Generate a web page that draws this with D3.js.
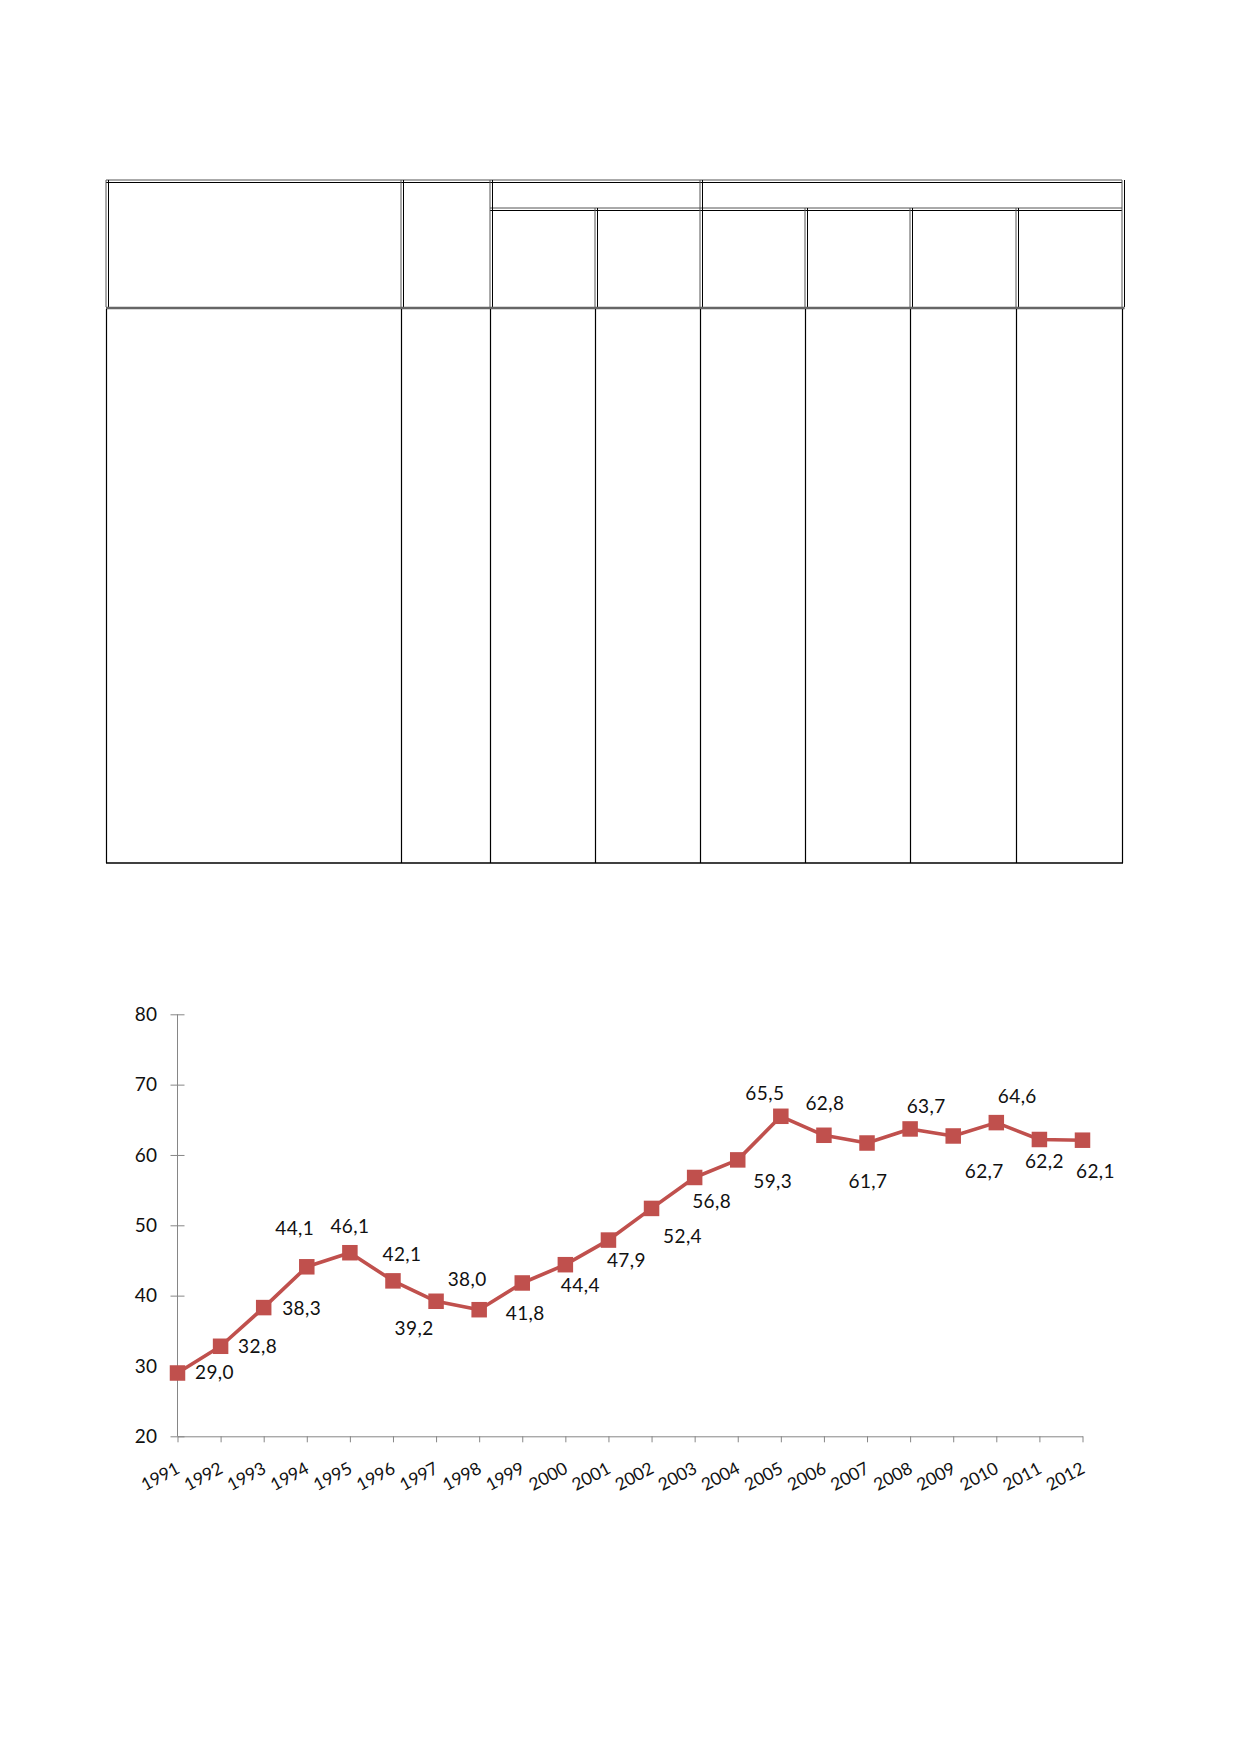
<!DOCTYPE html>
<html>
<head>
<meta charset="utf-8">
<script src="https://cdn.jsdelivr.net/npm/d3@7"></script>
<style>
    html, body { margin: 0; padding: 0; background: #fff; }
    svg { display: block; }
    text { font-family: Lato, "Open Sans", sans-serif; fill: #111; letter-spacing: 0.4px; }
    .x-axis text { letter-spacing: 0; }
</style>
</head>
<body>
<script>

// years on the category axis
let years = d3.range(1991, 2013).map(String);

// series values, one per year
let values = [29.0, 32.8, 38.3, 44.1, 46.1, 42.1, 39.2, 38.0, 41.8, 44.4, 47.9,
              52.4, 56.8, 59.3, 65.5, 62.8, 61.7, 63.7, 62.7, 64.6, 62.2, 62.1];

// y axis tick labels
let yTicks = [20, 30, 40, 50, 60, 70, 80];

// where each data label sits relative to its marker [dx, dy of baseline]
let labelNudge = [
    [37, 6], [37, 7], [38, 7], [-12, -32], [0, -20], [9, -20], [-22, 34],
    [-12, -24], [3, 37], [15, 27], [18, 27], [31, 35], [17, 31], [35, 28],
    [-16, -16], [1, -25], [1, 45], [16, -16], [31, 42], [21, -20], [5, 29],
    [13, 38]
];

let W = 1239, H = 1752;

let svg = d3.select('body').append('svg')
    .attr('width', W)
    .attr('height', H);

// ---- the empty table on top ----
let table = svg.append('g').attr('class', 'table');

let colX = [106, 401, 490, 595, 700, 805, 910, 1016, 1122];
let tTop = 180, tMid = 208, tHead = 307, tBottom = 863;

// double rule: two thin lines a couple of pixels apart
function dbl(g, x1, y1, x2, y2) {
    let vert = x1 == x2;
    [0, 2.5].forEach(o => {
        g.append('line')
            .attr('x1', vert ? x1 + o : x1).attr('x2', vert ? x2 + o : x2)
            .attr('y1', vert ? y1 : y1 + o).attr('y2', vert ? y2 : y2 + o)
            .attr('stroke', o == 0 ? '#555' : '#000')
            .attr('stroke-width', 1);
    });
}

let first = colX[0], last = colX[colX.length - 1];

// header frame
dbl(table, first, tTop, last, tTop);
dbl(table, colX[2], tMid, last, tMid);
dbl(table, first, tTop, first, tHead);
dbl(table, last, tTop, last, tHead);
dbl(table, colX[1], tTop, colX[1], tHead);
dbl(table, colX[2], tTop, colX[2], tHead);
dbl(table, colX[4], tTop, colX[4], tHead);
[3, 5, 6, 7].forEach(i => dbl(table, colX[i], tMid, colX[i], tHead));

// thick grey rule under the header
table.append('line')
    .attr('x1', first).attr('x2', last + 2.5)
    .attr('y1', tHead + 1).attr('y2', tHead + 1)
    .attr('stroke', '#666').attr('stroke-width', 2.5);

// body columns
table.selectAll('line.body')
    .data(colX)
    .enter().append('line')
    .attr('class', 'body')
    .attr('x1', d => d + 0.5).attr('x2', d => d + 0.5)
    .attr('y1', tHead + 2).attr('y2', tBottom)
    .attr('stroke', '#000').attr('stroke-width', 1.2);

table.append('line')
    .attr('x1', first).attr('x2', last + 1)
    .attr('y1', tBottom).attr('y2', tBottom)
    .attr('stroke', '#000').attr('stroke-width', 1.5);

// ---- the line chart ----
let x = d3.scalePoint()
    .domain(years)
    .range([177.5, 1082.5])
    .padding(0);

let y = d3.scaleLinear()
    .domain([20, 80])
    .range([1436.3, 1014.3]);

let axisColor = '#868686';
let chart = svg.append('g').attr('class', 'chart');

// y axis, ticks cross the line
let yAxis = chart.append('g')
    .attr('transform', `translate(${x(years[0])},0)`)
    .call(d3.axisLeft(y).tickValues(yTicks).tickSize(7).tickPadding(13));
yAxis.select('.domain').attr('stroke', axisColor).attr('d', `M0,${y(80)}V${y(20)}`);
yAxis.selectAll('.tick line').attr('stroke', axisColor).attr('x2', -7).attr('x1', 7);
yAxis.selectAll('.tick text')
    .attr('font-size', 19)
    .attr('font-family', 'Lato, sans-serif')
    .attr('fill', '#111')
    .attr('x', -20);

// x axis
let xAxis = chart.append('g')
    .attr('class', 'x-axis')
    .attr('transform', `translate(0,${y(20)})`)
    .call(d3.axisBottom(x).tickSize(6).tickSizeOuter(0));
xAxis.select('.domain').attr('stroke', axisColor);
xAxis.selectAll('.tick line').attr('stroke', axisColor);
xAxis.selectAll('.tick text')
    .attr('font-size', 17.5)
    .attr('font-family', 'Lato, sans-serif')
    .attr('fill', '#111')
    .attr('text-anchor', 'end')
    .attr('dy', null)
    .attr('y', 0)
    .attr('transform', 'translate(3,36) rotate(-28)');

let red = '#C0504D';

chart.append('path')
    .datum(values)
    .attr('fill', 'none')
    .attr('stroke', red)
    .attr('stroke-width', 3.6)
    .attr('stroke-linejoin', 'round')
    .attr('d', d3.line().x((d, i) => x(years[i])).y(d => y(d)));

let ms = 15.5;
chart.selectAll('rect.marker')
    .data(values)
    .enter().append('rect')
    .attr('class', 'marker')
    .attr('x', (d, i) => x(years[i]) - ms / 2)
    .attr('y', d => y(d) - ms / 2)
    .attr('width', ms).attr('height', ms)
    .attr('fill', red);

// data labels with decimal comma
let fmt = d3.formatLocale({ decimal: ',', thousands: ' ', grouping: [3], currency: ['', ''] }).format('.1f');

chart.selectAll('text.label')
    .data(values)
    .enter().append('text')
    .attr('class', 'label')
    .attr('x', (d, i) => x(years[i]) + labelNudge[i][0])
    .attr('y', (d, i) => y(d) + labelNudge[i][1])
    .attr('text-anchor', 'middle')
    .attr('font-size', 19)
    .text(d => fmt(d));

</script>
</body>
</html>
